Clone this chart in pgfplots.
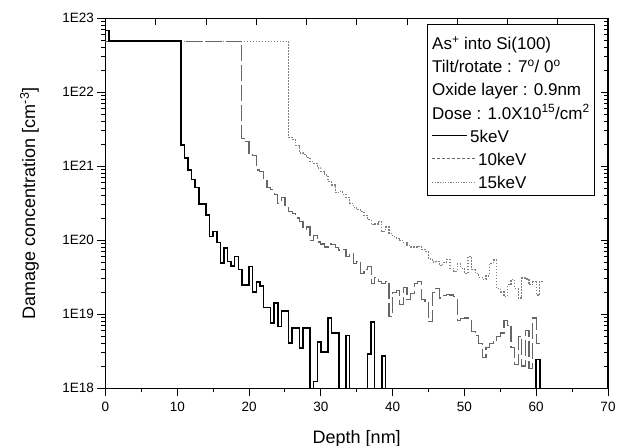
\documentclass[border=0pt]{standalone}
\usepackage{fontspec}
\setmainfont{Liberation Sans}
\usepackage{pgfplots}
\pgfplotsset{compat=1.18}
\pgfplotsset{
  baseaxis/.style={
    at={(0,0)}, anchor=south west,
    scale only axis, width=502.5pt, height=370pt,
    xmin=0, xmax=70, ymin=1e18, ymax=1e23,
    ytick={1e18,1e19,1e20,1e21,1e22,1e23},
    minor ytick={2e18,3e18,4e18,5e18,6e18,7e18,8e18,9e18,
                 2e19,3e19,4e19,5e19,6e19,7e19,8e19,9e19,
                 2e20,3e20,4e20,5e20,6e20,7e20,8e20,9e20,
                 2e21,3e21,4e21,5e21,6e21,7e21,8e21,9e21,
                 2e22,3e22,4e22,5e22,6e22,7e22,8e22,9e22},
    axis line style={line width=1.2pt},
    tick style={black, line width=1pt},
    minor tick length=4pt,
  }
}
\newcommand{\solidsample}{{\color{black}\rule[6pt]{35pt}{1.5pt}}}
\newcommand{\dashsample}{{\color{black!60}\leaders\hbox to 5pt{\rule[6.2pt]{3pt}{1pt}\hss}\hskip 45pt}}
\newcommand{\dotsample}{{\color{black!50}\leaders\hbox to 2.6pt{\rule[6.2pt]{1.2pt}{1pt}\hss}\hskip 45pt}}

\pgfplotstableread{
x y
0 6.8e22
0.5 4.9e22
10.5 1.95e21
11 1.29e21
11.5 8.9e20
12 6.6e20
12.5 5.2e20
13 3.1e20
13.5 3.1e20
14 2.2e20
14.5 1.12e20
15 1.32e20
15.5 9.3e19
16 4.9e19
16.5 7.9e19
17 5.2e19
17.5 4.5e19
18 6.0e19
18.5 4.0e19
19 2.5e19
19.5 2.5e19
20 4.4e19
20.5 2.0e19
21 2.75e19
21.5 2.4e19
22 1.23e19
22.5 1.23e19
23 7.6e18
23.5 1.41e19
24 6.8e18
24.5 1.1e19
25 1.1e19
25.5 4.1e18
26 6.5e18
26.5 6.5e18
27 3.5e18
27.5 6.5e18
28 6.5e18
28.5 1e16
29 1.23e18
29.5 4.2e18
30 3.1e18
30.5 3.1e18
31 8.9e18
31.5 5.6e18
32 5.6e18
32.5 1e16
33.5 5.2e18
34 1e16
36.5 2.9e18
37 7.9e18
37.5 1e16
38.5 2.75e18
39 1e16
60 2.45e18
60.5 1e16
}\fivekev

\pgfplotstableread{
x y
0 4.9e22
19 2.4e21
19.5 2.14e21
20 1.51e21
20.5 1.41e21
21 8.9e20
21.5 8.5e20
22 6.6e20
22.5 5.2e20
23 4.8e20
23.5 4.2e20
24 3.16e20
24.5 3.8e20
25 2.8e20
25.5 2.45e20
26 2.3e20
26.5 2.0e20
27 1.78e20
27.5 1.41e20
28 1.51e20
28.5 1.0e20
29 1.17e20
29.5 9.5e19
30 8.9e19
30.5 8.1e19
31 8.9e19
31.5 8.7e19
32 7.9e19
32.5 7.4e19
33 7.6e19
33.5 6.0e19
34 6.6e19
34.5 4.9e19
35 5.2e19
35.5 3.6e19
36 4.0e19
36.5 4.4e19
37 2.6e19
37.5 3.16e19
38 2.8e19
38.5 2.6e19
39 2.8e19
39.5 9.3e18
40 1.95e19
40.5 2.1e19
41 1.35e19
41.5 2.3e19
42 1.58e19
42.5 1.9e19
43 2.6e19
43.5 2.75e19
44 1.58e19
44.5 1.51e19
45 7.9e18
45.5 1.95e19
46 2.24e19
46.5 1.66e19
47 1.78e19
47.5 1.86e19
48 1.82e19
48.5 1.74e19
49 8.3e18
49.5 8.7e18
50 8.9e18
50.5 8.9e18
51 5.8e18
51.5 5.2e18
52 4.0e18
52.5 2.6e18
53 3.55e18
53.5 4.0e18
54 4.5e18
54.5 5.0e18
55 5.6e18
55.5 8.3e18
56 7.1e18
56.5 3.55e18
57 2.1e18
57.5 5.0e18
58 2.0e18
58.5 6.0e18
59 1.86e18
59.5 8.9e18
60 4.0e18
60.5 4.0e18
}\tenkev

\pgfplotstableread{
x y
0 4.9e22
25.5 2.45e21
26 2.3e21
26.5 1.9e21
27 1.51e21
27.5 1.45e21
28 1.32e21
28.5 1.15e21
29 1.1e21
29.5 9.5e20
30 8.5e20
30.5 7.6e20
31 6.2e20
31.5 5.6e20
32 4.4e20
32.5 4.6e20
33 4.2e20
33.5 3.8e20
34 3.16e20
34.5 2.8e20
35 2.6e20
35.5 2.45e20
36 2.14e20
36.5 1.9e20
37 1.62e20
37.5 1.66e20
38 1.78e20
38.5 1.32e20
39 1.51e20
39.5 1.23e20
40 1.12e20
40.5 1.07e20
41 1.0e20
41.5 9.3e19
42 8.5e19
42.5 8.1e19
43 8.1e19
43.5 8.3e19
44 7.6e19
44.5 7.1e19
45 5.6e19
45.5 5.1e19
46 5.2e19
46.5 4.6e19
47 5.0e19
47.5 5.5e19
48 4.2e19
48.5 3.8e19
49 4.8e19
49.5 4.2e19
50 3.55e19
50.5 6.0e19
51 4.0e19
51.5 3.55e19
52 3.16e19
52.5 2.95e19
53 3.3e19
53.5 4.9e19
54 5.4e19
54.5 2.24e19
55 2.0e19
55.5 1.74e19
56 2.5e19
56.5 2.95e19
57 2.24e19
57.5 1.66e19
58 3.1e19
58.5 3.0e19
59 2.5e19
59.5 2.75e19
60 1.82e19
60.5 2.8e19
61 2.8e19
}\fifteenkev

\begin{document}
\begin{tikzpicture}
\path[use as bounding box] (-105.5pt,-57.7pt) rectangle (517.5pt,388.3pt);
\begin{axis}[ymode=log, baseaxis,
  axis x line*=top, axis y line*=right,
  xtick={7,14,...,63}, minor x tick num=0,
  xticklabels={}, yticklabels={},
  tick align=inside, major tick length=7pt,
]
\end{axis}
\begin{axis}[ymode=log, baseaxis,
  axis x line*=bottom, axis y line*=left,
  xtick={0,10,...,70}, minor x tick num=1,
  yticklabels={1E18,1E19,1E20,1E21,1E22,1E23},
  tick align=outside, major tick length=8pt,
  /pgf/number format/assume math mode=true,
  ticklabel style={font=\fontsize{13.5}{15}\selectfont},
  xticklabel style={yshift=-2pt},
  xlabel={Depth [nm]},
  ylabel={Damage concentration [cm\textsuperscript{-3}]},
  label style={font=\fontsize{18}{20}\selectfont},
  xlabel style={at={(axis description cs:0.5,-0.1486)}, anchor=base},
  ylabel style={at={(axis description cs:-0.140,0.5)}, anchor=base},
]
\addplot[const plot, black!50, line width=1.2pt, dash pattern=on 1.5pt off 1.5pt] table {\fifteenkev};
\addplot[const plot, black!60, line width=1.2pt, dash pattern=on 16pt off 4pt] table {\tenkev};
\addplot[const plot, black, line width=1.5pt] table {\fivekev};
\node[draw=black, line width=1pt, anchor=north west, align=left,
      inner xsep=4.4pt, inner ysep=6.5pt,
      font=\fontsize{17}{23.2}\selectfont]
  at (axis description cs:0.6404,0.9846)
  {\rule{0pt}{18.6pt}As\textsuperscript{+} into Si(100)\\
   Tilt/rotate : 7\textsuperscript{o}/ 0\textsuperscript{o}\\
   Oxide layer : 0.9nm\\
   Dose : 1.0X10\textsuperscript{15}/cm\textsuperscript{2}\\
   \solidsample\hspace{3pt}5keV\\
   \dashsample\hspace{1pt}10keV\\
   \dotsample\hspace{1pt}15keV};
\end{axis}
\end{tikzpicture}
\end{document}
